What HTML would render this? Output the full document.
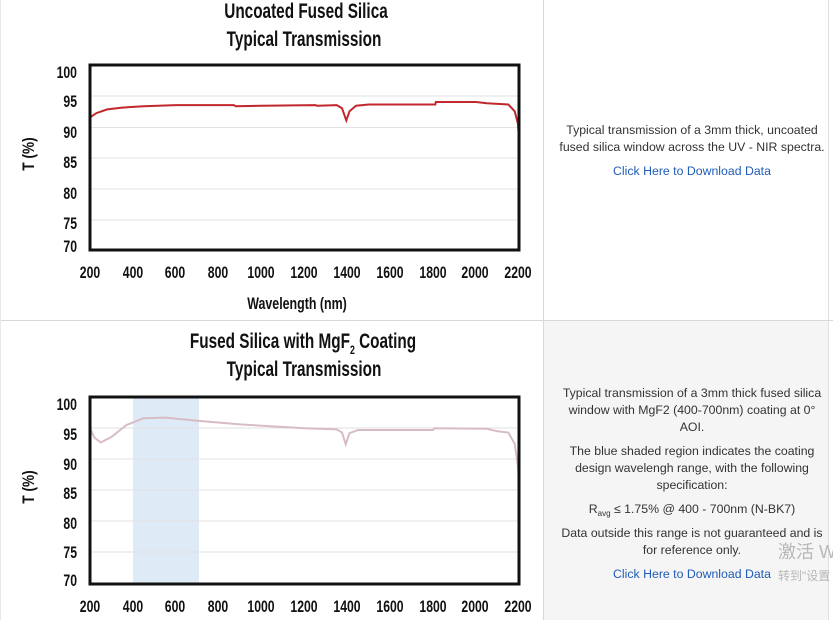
<!DOCTYPE html>
<html><head><meta charset="utf-8"><style>
html,body{margin:0;padding:0;width:833px;height:620px;overflow:hidden;background:#fff;}
svg{position:absolute;left:0;top:0}
</style></head><body>
<svg width="833" height="620" viewBox="0 0 833 620" xmlns="http://www.w3.org/2000/svg">
<rect x="544" y="321" width="284" height="299" fill="#f5f5f5"/>
<line x1="543.5" y1="0" x2="543.5" y2="620" stroke="#d8d8d8"/>
<line x1="828.5" y1="0" x2="828.5" y2="620" stroke="#e0e0e0"/>
<line x1="0" y1="320.5" x2="833" y2="320.5" stroke="#d8d8d8"/>
<line x1="0.5" y1="0" x2="0.5" y2="620" stroke="#e8e8e8"/>

<g font-family="'Liberation Sans',sans-serif" font-weight="bold" fill="#111" text-anchor="middle">
<text transform="translate(306,18) scale(0.73,1)" font-size="21">Uncoated Fused Silica</text>
<text transform="translate(304,46) scale(0.73,1)" font-size="21">Typical Transmission</text>
<text transform="translate(303,348) scale(0.73,1)" font-size="21">Fused Silica with MgF<tspan font-size="12" dy="6">2</tspan><tspan dy="-6"> Coating</tspan></text>
<text transform="translate(304,376) scale(0.73,1)" font-size="21">Typical Transmission</text>
<text transform="translate(297,309) scale(0.73,1)" font-size="17">Wavelength (nm)</text>
<text transform="translate(34,154) rotate(-90) scale(0.8,1)" font-size="17">T (%)</text>
<text transform="translate(34,487) rotate(-90) scale(0.8,1)" font-size="17">T (%)</text>
</g>

<!-- top chart -->
<g stroke="#e2e2e2" stroke-width="1">
<line x1="90" y1="96" x2="518" y2="96"/><line x1="90" y1="127.5" x2="518" y2="127.5"/>
<line x1="90" y1="158" x2="518" y2="158"/><line x1="90" y1="189" x2="518" y2="189"/>
<line x1="90" y1="220" x2="518" y2="220"/>
</g>
<polyline fill="none" stroke="#c1272d" stroke-width="2" points="90,117.4 96.4,113.1 107.2,109.4 122.2,107.6 143.6,106.3 175.8,105.1 233.7,105.1 235.9,106.3 261.6,105.7 315.2,105.1 317.4,105.7 336.7,105.1 342,108.2 346.3,120.5 349.5,111.3 356,105.7 368.9,104.5 435.3,104.5 435.8,102 476.1,102 486.8,103.3 508.3,104.5 514.7,111.3 517.9,123.6 519,139"/>
<rect x="90" y="65" width="429" height="185" fill="none" stroke="#111" stroke-width="3"/>
<g font-family="'Liberation Sans',sans-serif" font-size="17" fill="#111" text-anchor="end" font-weight="bold">
<text transform="translate(77,78) scale(0.72,1)">100</text>
<text transform="translate(77,107) scale(0.72,1)">95</text>
<text transform="translate(77,138) scale(0.72,1)">90</text>
<text transform="translate(77,168) scale(0.72,1)">85</text>
<text transform="translate(77,199) scale(0.72,1)">80</text>
<text transform="translate(77,229) scale(0.72,1)">75</text>
<text transform="translate(77,252) scale(0.72,1)">70</text>
</g>
<g font-family="'Liberation Sans',sans-serif" font-size="17" fill="#111" text-anchor="middle" font-weight="bold">
<text transform="translate(90,278) scale(0.72,1)">200</text>
<text transform="translate(133,278) scale(0.72,1)">400</text>
<text transform="translate(175,278) scale(0.72,1)">600</text>
<text transform="translate(218,278) scale(0.72,1)">800</text>
<text transform="translate(261,278) scale(0.72,1)">1000</text>
<text transform="translate(304,278) scale(0.72,1)">1200</text>
<text transform="translate(347,278) scale(0.72,1)">1400</text>
<text transform="translate(390,278) scale(0.72,1)">1600</text>
<text transform="translate(433,278) scale(0.72,1)">1800</text>
<text transform="translate(475,278) scale(0.72,1)">2000</text>
<text transform="translate(518,278) scale(0.72,1)">2200</text>
</g>

<!-- bottom chart -->
<rect x="133" y="397" width="66" height="187" fill="#deeaf5"/>
<g stroke="#e2e2e2" stroke-width="1">
<line x1="90" y1="428" x2="518" y2="428"/><line x1="90" y1="459" x2="518" y2="459"/>
<line x1="90" y1="490" x2="518" y2="490"/><line x1="90" y1="521" x2="518" y2="521"/>
<line x1="90" y1="552" x2="518" y2="552"/>
</g>
<polyline fill="none" stroke="#d8bcc4" stroke-width="2" points="90,428.2 94.3,437.5 100.7,442.5 111.5,436.9 126.5,425 143.6,418.2 165.1,417.6 197.3,420.7 240.2,424.4 304.5,428.2 336.7,429.4 342,432.5 345.7,444.3 349.5,433.1 358.1,430 433.2,430 434.3,428.2 486.8,428.8 497.6,431.3 508.3,432.5 514.7,443.7 517.9,465.5 519,484.2"/>
<rect x="90" y="397" width="429" height="187" fill="none" stroke="#111" stroke-width="3"/>
<g font-family="'Liberation Sans',sans-serif" font-size="17" fill="#111" text-anchor="end" font-weight="bold">
<text transform="translate(77,410) scale(0.72,1)">100</text>
<text transform="translate(77,440) scale(0.72,1)">95</text>
<text transform="translate(77,470) scale(0.72,1)">90</text>
<text transform="translate(77,499) scale(0.72,1)">85</text>
<text transform="translate(77,529) scale(0.72,1)">80</text>
<text transform="translate(77,558) scale(0.72,1)">75</text>
<text transform="translate(77,586) scale(0.72,1)">70</text>
</g>
<g font-family="'Liberation Sans',sans-serif" font-size="17" fill="#111" text-anchor="middle" font-weight="bold">
<text transform="translate(90,612) scale(0.72,1)">200</text>
<text transform="translate(133,612) scale(0.72,1)">400</text>
<text transform="translate(175,612) scale(0.72,1)">600</text>
<text transform="translate(218,612) scale(0.72,1)">800</text>
<text transform="translate(261,612) scale(0.72,1)">1000</text>
<text transform="translate(304,612) scale(0.72,1)">1200</text>
<text transform="translate(347,612) scale(0.72,1)">1400</text>
<text transform="translate(390,612) scale(0.72,1)">1600</text>
<text transform="translate(433,612) scale(0.72,1)">1800</text>
<text transform="translate(475,612) scale(0.72,1)">2000</text>
<text transform="translate(518,612) scale(0.72,1)">2200</text>
</g>

<!-- right text -->
<g font-family="'Liberation Sans',sans-serif" font-size="12.3" fill="#333" text-anchor="middle">
<text x="692" y="134">Typical transmission of a 3mm thick, uncoated</text>
<text x="692" y="151">fused silica window across the UV - NIR spectra.</text>
<text x="692" y="175" fill="#1f5cb5">Click Here to Download Data</text>
<text x="692" y="397">Typical transmission of a 3mm thick fused silica</text>
<text x="692" y="414">window with MgF2 (400-700nm) coating at 0°</text>
<text x="692" y="431">AOI.</text>
<text x="692" y="455">The blue shaded region indicates the coating</text>
<text x="692" y="472">design wavelengh range, with the following</text>
<text x="692" y="489">specification:</text>
<text x="692" y="513">R<tspan font-size="8" dy="3">avg</tspan><tspan dy="-3"> ≤ 1.75% @ 400 - 700nm (N-BK7)</tspan></text>
<text x="692" y="537">Data outside this range is not guaranteed and is</text>
<text x="692" y="554">for reference only.</text>
<text x="692" y="578" fill="#1f5cb5">Click Here to Download Data</text>
</g>
<g font-family="'Liberation Sans','Noto Sans CJK SC',sans-serif" fill="#b8b8b8">
<text x="778" y="558" font-size="18">激活 W</text>
<text x="778" y="580" font-size="12">转到"设置</text>
</g>
</svg>
</body></html>
